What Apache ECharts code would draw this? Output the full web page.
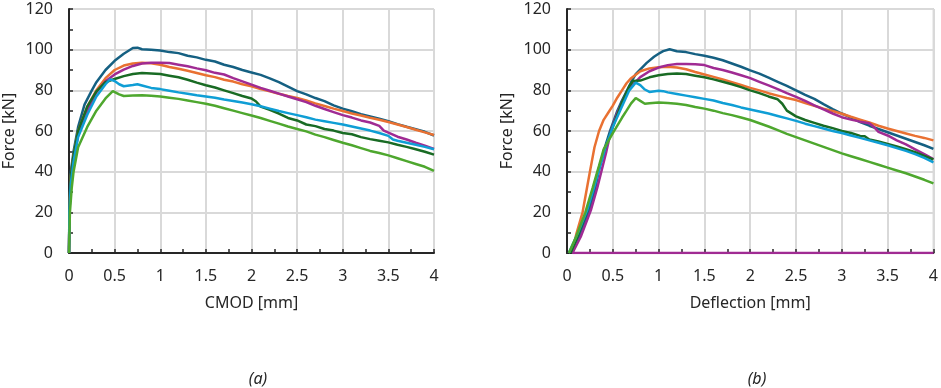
<!DOCTYPE html>
<html lang="en">
<head>
    <meta charset="UTF-8">
    <title>Force vs CMOD / Deflection</title>
    <script src="https://cdn.jsdelivr.net/npm/echarts@6/dist/echarts.min.js"></script>
    <style>
        html, body { margin: 0; padding: 0; background: #fff; }
        #main { width: 941px; height: 388px; }
    </style>
</head>
<body>
<div id="main"></div>
<script>
    // colours of the six specimens
    var colors = ['#156082', '#E97132', '#A02B93', '#196B24', '#0F9ED5', '#4EA72E'];

    // (a) CMOD [mm] vs force [kN]
    var cmodBlue = [[0,0],[0.005,25],[0.02,40],[0.05,50],[0.1,62],[0.17,73],[0.25,80],[0.3,84],[0.4,90],[0.5,94.5],[0.6,98],[0.7,100.8],[0.75,101],[0.8,100.2],[0.9,100],[1.0,99.6],[1.1,98.8],[1.2,98.3],[1.3,97],[1.4,96.2],[1.5,95],[1.6,94.2],[1.7,92.6],[1.8,91.5],[1.9,90],[2.0,88.8],[2.1,87.6],[2.2,85.9],[2.3,84],[2.4,81.8],[2.5,79.6],[2.6,78],[2.7,76.2],[2.8,74.7],[2.9,72.6],[3.0,71],[3.1,69.7],[3.2,68.3],[3.3,67.2],[3.4,66],[3.5,64.8],[3.6,63.4],[3.7,62.1],[3.8,60.9],[3.9,59.6],[4.0,57.8]];
    var cmodOrange = [[0,0],[0.005,22],[0.02,38],[0.05,48],[0.1,60],[0.2,72],[0.3,80],[0.4,86],[0.5,90],[0.6,92.2],[0.7,93.2],[0.8,93.6],[0.9,93.3],[1.0,92.6],[1.1,91.5],[1.2,90.6],[1.3,89.6],[1.4,88.5],[1.5,87.4],[1.6,86.5],[1.7,85.2],[1.8,84.3],[1.9,83],[2.0,82],[2.1,80.6],[2.2,79.5],[2.3,78.3],[2.4,77.2],[2.5,76.3],[2.6,75],[2.7,73.6],[2.8,72.3],[2.9,71],[3.0,69.8],[3.1,68.6],[3.2,67.6],[3.3,66.5],[3.4,65.5],[3.5,64.4],[3.6,63.2],[3.7,62],[3.8,60.6],[3.9,59.3],[4.0,58]];
    var cmodMagenta = [[0,0],[0.005,20],[0.02,35],[0.05,46],[0.1,58],[0.2,70],[0.3,79],[0.4,84.5],[0.5,87.8],[0.6,90.2],[0.7,92],[0.8,93.2],[0.9,93.6],[1.0,93.6],[1.1,93.4],[1.2,92.6],[1.3,91.8],[1.4,90.8],[1.5,89.9],[1.6,88.6],[1.7,87.8],[1.8,86],[1.9,84.4],[2.0,82.8],[2.1,81.2],[2.2,79.8],[2.3,78.4],[2.4,77],[2.5,75.6],[2.6,74.2],[2.7,72.4],[2.8,70.8],[2.9,69.3],[3.0,67.8],[3.1,66.6],[3.2,65.2],[3.3,64.2],[3.4,62.5],[3.45,60.2],[3.5,59.2],[3.6,57.2],[3.7,55.8],[3.8,54.2],[3.9,52.8],[4.0,51.2]];
    var cmodDkGreen = [[0,0],[0.005,22],[0.02,38],[0.05,48],[0.1,60],[0.2,72],[0.3,79.5],[0.4,84],[0.5,85.6],[0.6,87],[0.7,88],[0.8,88.5],[0.9,88.3],[1.0,88],[1.1,87.2],[1.2,86.4],[1.3,85.2],[1.4,83.8],[1.5,82.5],[1.6,81.4],[1.7,80],[1.8,78.6],[1.9,77.2],[2.0,76],[2.05,74.5],[2.1,72],[2.2,70.4],[2.3,68.6],[2.4,66.4],[2.5,65.2],[2.6,63.2],[2.7,62.4],[2.8,61],[2.9,60.2],[3.0,59],[3.1,58.4],[3.2,57],[3.3,56],[3.4,55.2],[3.5,54.4],[3.6,53.2],[3.7,52.2],[3.8,51],[3.9,49.8],[4.0,48.4]];
    var cmodLtBlue = [[0,0],[0.005,20],[0.02,34],[0.05,45],[0.1,57],[0.2,68],[0.3,77],[0.4,83],[0.45,85.4],[0.5,84.6],[0.55,83],[0.6,82],[0.7,82.6],[0.75,83],[0.8,82.4],[0.9,81.2],[1.0,80.6],[1.1,79.8],[1.2,79],[1.3,78.3],[1.4,77.6],[1.5,77],[1.6,76.4],[1.7,75.5],[1.8,74.8],[1.9,74],[2.0,73.2],[2.1,72.2],[2.2,71],[2.3,69.8],[2.4,68.8],[2.5,67.8],[2.6,66.8],[2.7,65.6],[2.8,64.8],[2.9,64],[3.0,63.2],[3.1,62.2],[3.2,61.2],[3.3,60.2],[3.4,59],[3.5,57.6],[3.55,55.8],[3.6,55.2],[3.7,54.2],[3.8,53.2],[3.9,52.2],[4.0,51]];
    var cmodGreen = [[0,0],[0.01,20],[0.03,32],[0.05,40],[0.1,52],[0.2,62],[0.3,70],[0.4,76],[0.48,79.6],[0.55,78],[0.6,77.2],[0.7,77.4],[0.8,77.6],[0.9,77.3],[1.0,77],[1.1,76.4],[1.2,75.8],[1.3,75],[1.4,74.2],[1.5,73.4],[1.6,72.4],[1.7,71.2],[1.8,70],[1.9,68.8],[2.0,67.6],[2.1,66.4],[2.2,65],[2.3,63.6],[2.4,62.2],[2.5,61],[2.6,59.8],[2.7,58.2],[2.8,57],[2.9,55.6],[3.0,54.2],[3.1,53],[3.2,51.6],[3.3,50.2],[3.4,49.2],[3.5,48],[3.6,46.6],[3.7,45.2],[3.8,43.8],[3.9,42.4],[4.0,40.4]];

    // (b) deflection [mm] vs force [kN]
    var defBlue = [[0.05,0],[0.15,10],[0.24,21],[0.3,30],[0.35,41],[0.4,50],[0.47,60],[0.55,70],[0.6,75],[0.7,84],[0.75,88],[0.87,93.5],[0.95,96.5],[1.0,98],[1.05,99.3],[1.12,100.2],[1.2,99.2],[1.3,98.8],[1.4,97.8],[1.5,97],[1.6,96],[1.7,94.8],[1.8,93.2],[1.9,91.6],[2.0,89.8],[2.1,88.2],[2.2,86.2],[2.3,84.2],[2.4,82.2],[2.5,80],[2.6,77.8],[2.7,75.8],[2.8,73.2],[2.9,70.8],[3.0,68.6],[3.1,66.6],[3.2,64.4],[3.3,62.6],[3.4,61],[3.5,59.4],[3.6,57.8],[3.7,56.2],[3.8,54.6],[3.9,53],[4.0,51.2]];
    var defOrange = [[0.05,0],[0.1,9],[0.17,20],[0.25,40],[0.3,52],[0.35,60],[0.4,65.5],[0.45,69],[0.5,72.5],[0.55,76.5],[0.6,80],[0.65,83.5],[0.7,86],[0.8,89.4],[0.9,90.8],[1.0,91.4],[1.1,91.6],[1.2,91.2],[1.3,90.4],[1.4,89],[1.5,87.8],[1.6,86.6],[1.7,85.4],[1.8,84],[1.9,82.6],[2.0,81.2],[2.1,80],[2.2,78.6],[2.3,77.4],[2.4,76.2],[2.5,75.2],[2.6,73.8],[2.7,72.4],[2.8,71],[2.9,69.8],[3.0,68.5],[3.1,67],[3.2,65.6],[3.3,64.2],[3.4,62.6],[3.5,61.2],[3.6,60],[3.7,58.8],[3.8,57.6],[3.9,56.6],[4.0,55.4]];
    var defMagenta = [[4.0,0],[0.06,0],[0.15,8],[0.26,21],[0.33,32],[0.38,41],[0.43,50],[0.48,60],[0.55,69],[0.62,76],[0.7,82],[0.8,86.5],[0.9,89.4],[1.0,91.2],[1.1,92.4],[1.2,93],[1.3,93],[1.4,92.8],[1.5,92.4],[1.6,91],[1.7,90],[1.8,88.8],[1.9,87.4],[2.0,86],[2.1,84.2],[2.2,82.4],[2.3,80.6],[2.4,78.6],[2.5,76.8],[2.6,74.8],[2.7,72.6],[2.8,70.6],[2.9,68.6],[3.0,66.8],[3.1,65.6],[3.2,64.6],[3.3,63.8],[3.35,62],[3.4,59.6],[3.5,57.8],[3.6,55.4],[3.7,53.4],[3.8,51],[3.9,48.6],[4.0,46.2]];
    var defDkGreen = [[0.04,0],[0.13,10],[0.22,21],[0.3,34],[0.35,42],[0.42,52],[0.5,62],[0.6,74],[0.68,82],[0.72,84.6],[0.8,84.8],[0.9,86.4],[1.0,87.4],[1.1,88],[1.2,88.3],[1.3,88],[1.4,87.2],[1.5,86.4],[1.6,85.4],[1.7,84.2],[1.8,83],[1.9,81.6],[2.0,80],[2.1,78.6],[2.2,77],[2.3,75.6],[2.35,73.4],[2.4,70],[2.5,67.2],[2.6,65.4],[2.7,64],[2.8,62.6],[2.9,61.4],[3.0,60],[3.1,59],[3.2,57.6],[3.25,57.4],[3.3,55.8],[3.4,54.8],[3.5,53.6],[3.6,52.4],[3.7,51],[3.8,49.6],[3.9,47.8],[4.0,46]];
    var defLtBlue = [[0.02,0],[0.12,10],[0.22,21],[0.3,33],[0.35,41],[0.42,52],[0.5,62],[0.6,72],[0.68,80],[0.75,83.8],[0.8,82.6],[0.85,80.4],[0.9,79.2],[1.0,79.8],[1.05,79.6],[1.1,79],[1.2,78.2],[1.3,77.4],[1.4,76.6],[1.5,75.8],[1.6,75],[1.7,73.8],[1.8,72.8],[1.9,71.6],[2.0,70.6],[2.1,69.6],[2.2,68.6],[2.3,67.4],[2.4,66.2],[2.5,65],[2.6,63.6],[2.7,62.4],[2.8,61.2],[2.9,60],[3.0,59],[3.1,57.8],[3.2,56.6],[3.3,55.4],[3.4,54.2],[3.5,53],[3.6,51.6],[3.7,50.2],[3.8,48.6],[3.9,46.8],[4.0,44.6]];
    var defGreen = [[0.02,0],[0.1,8],[0.2,20],[0.28,32],[0.35,43],[0.4,51],[0.5,59],[0.6,66.5],[0.65,70],[0.7,73.6],[0.75,76.2],[0.8,74.8],[0.85,73.4],[0.9,73.6],[1.0,74],[1.1,73.8],[1.2,73.4],[1.3,72.8],[1.4,71.8],[1.5,71],[1.6,70],[1.7,68.8],[1.8,67.8],[1.9,66.6],[2.0,65.4],[2.1,63.8],[2.2,62.2],[2.3,60.4],[2.4,58.6],[2.5,57],[2.6,55.4],[2.7,53.8],[2.8,52.2],[2.9,50.6],[3.0,49],[3.1,47.6],[3.2,46.2],[3.3,44.8],[3.4,43.4],[3.5,42],[3.6,40.6],[3.7,39.2],[3.8,37.6],[3.9,36],[4.0,34.2]];

    var xNames = ['CMOD [mm]', 'Deflection [mm]'];
    var panelTags = ['(a)', '(b)'];

    var font = '"Noto Sans", "Liberation Sans", sans-serif';
    var ink = '#262626';

    function xAxis(i) {
        return {
            type: 'value', gridIndex: i, min: 0, max: 4, interval: 0.5,
            name: xNames[i], nameLocation: 'middle', nameGap: 42,
            nameTextStyle: {fontFamily: font, fontSize: 16, color: ink},
            axisLine: {lineStyle: {color: ink, width: 2}},
            axisTick: {show: true, inside: true, length: 4, lineStyle: {color: ink, width: 1.5}},
            minorTick: {show: true, splitNumber: 2, length: 4, lineStyle: {color: ink, width: 1.5}},
            axisLabel: {fontFamily: font, fontSize: 16, color: ink, margin: 15},
            splitLine: {show: true, lineStyle: {color: '#d9d9d9', width: 2}}
        };
    }

    function yAxis(i) {
        return {
            type: 'value', gridIndex: i, min: 0, max: 120, interval: 20,
            name: 'Force [kN]', nameLocation: 'middle', nameGap: 52,
            nameTextStyle: {fontFamily: font, fontSize: 16, color: ink},
            axisLine: {show: true, lineStyle: {color: ink, width: 2}},
            axisTick: {show: true, inside: true, length: 4, lineStyle: {color: ink, width: 1.5}},
            minorTick: {show: true, splitNumber: 2, length: 4, lineStyle: {color: ink, width: 1.5}},
            axisLabel: {fontFamily: font, fontSize: 16, color: ink, margin: 16},
            splitLine: {show: true, lineStyle: {color: '#d9d9d9', width: 2}}
        };
    }

    function line(data, color, i) {
        return {
            type: 'line', xAxisIndex: i, yAxisIndex: i, data: data,
            showSymbol: false, animation: false,
            lineStyle: {color: color, width: 2.5}, z: 3
        };
    }

    var left = [cmodBlue, cmodOrange, cmodMagenta, cmodDkGreen, cmodLtBlue, cmodGreen];
    var right = [defBlue, defOrange, defMagenta, defDkGreen, defLtBlue, defGreen];
    var series = [];
    left.forEach(function (d, k) { series.push(line(d, colors[k], 0)); });
    right.forEach(function (d, k) { series.push(line(d, colors[k], 1)); });

    var chart = echarts.init(document.getElementById('main'));
    chart.setOption({
        animation: false,
        grid: [
            {left: 68, right: 507, top: 9, bottom: 135, show: true, borderColor: ink, borderWidth: 1},
            {left: 567, right: 7, top: 9, bottom: 135, show: true, borderColor: ink, borderWidth: 1}
        ],
        xAxis: [xAxis(0), xAxis(1)],
        yAxis: [yAxis(0), yAxis(1)],
        title: [
            {text: panelTags[0], left: 253, top: 366, textAlign: 'center',
             textStyle: {fontFamily: font, fontSize: 16, fontStyle: 'italic', fontWeight: 'normal', color: ink}},
            {text: panelTags[1], left: 752, top: 366, textAlign: 'center',
             textStyle: {fontFamily: font, fontSize: 16, fontStyle: 'italic', fontWeight: 'normal', color: ink}}
        ],
        series: series
    });
</script>
</body>
</html>
